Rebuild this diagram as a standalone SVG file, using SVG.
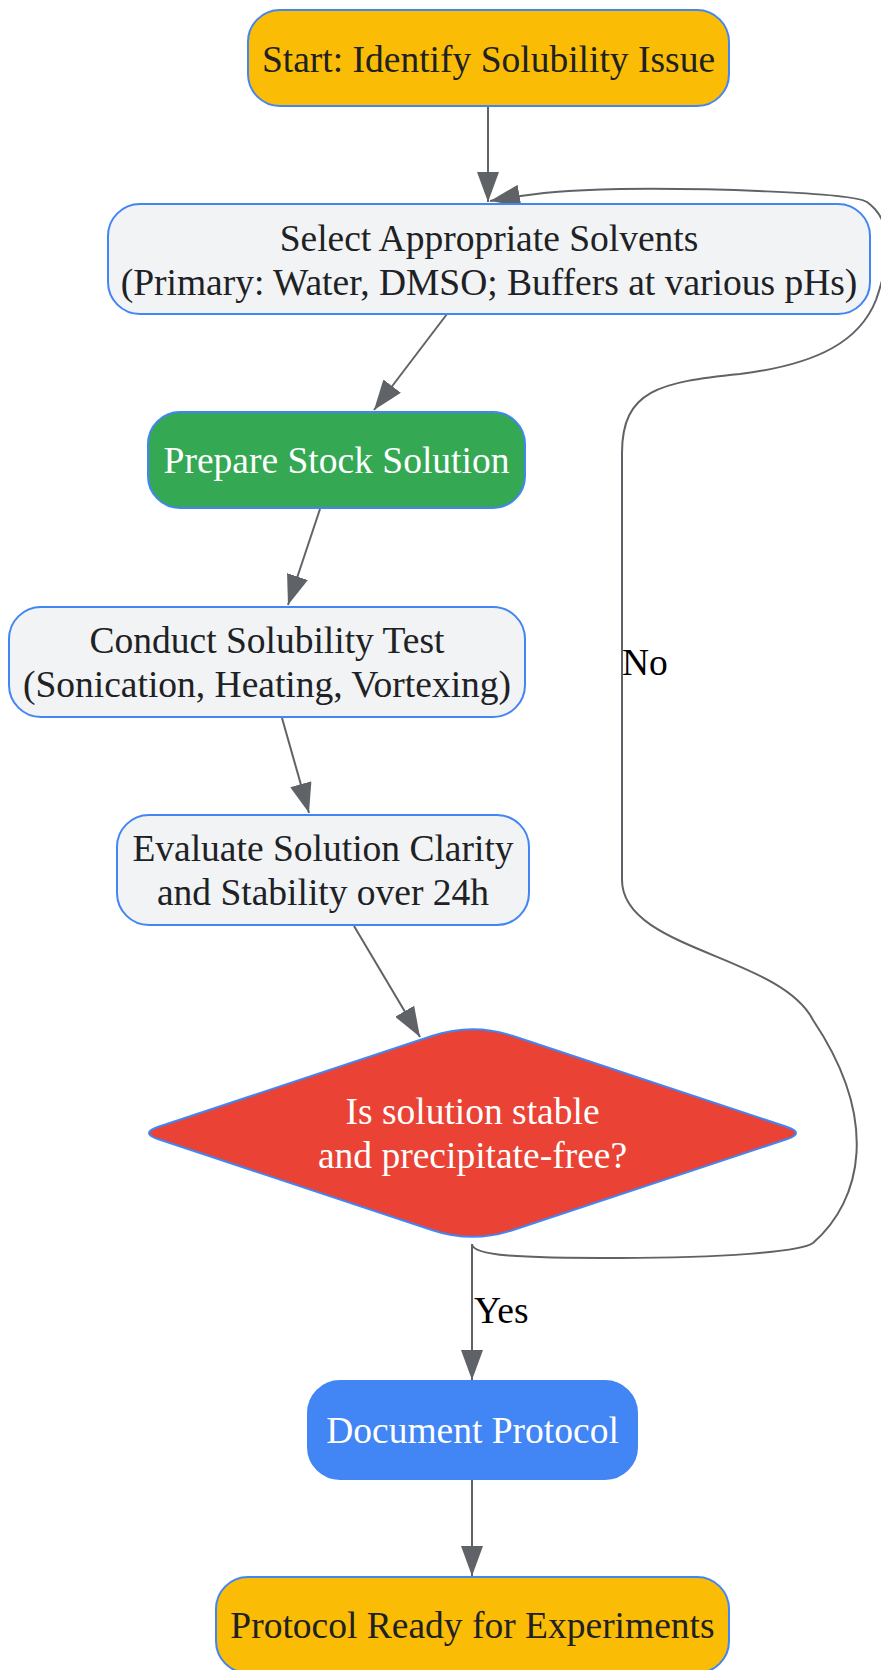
<svg xmlns="http://www.w3.org/2000/svg" width="881" height="1670" viewBox="0 0 881 1670">
<style>
  .node { stroke: #4285F4; stroke-width: 2; }
  .yellow { fill: #FBBC05; }
  .light { fill: #F1F3F4; }
  .green { fill: #34A853; }
  .red { fill: #EA4335; }
  .blue { fill: #4285F4; }
  text { font-family: "Liberation Serif", "Times New Roman", serif; font-size: 37.5px; }
  .dark { fill: #202124; text-anchor: middle; }
  .white { fill: #FFFFFF; text-anchor: middle; }
  .label { fill: #000000; text-anchor: start; }
  .edge { fill: none; stroke: #5F6368; stroke-width: 2; }
</style>
<defs>
  <marker id="arrow" markerUnits="userSpaceOnUse" viewBox="0 0 30 22" refX="30" refY="11" markerWidth="30" markerHeight="22" orient="auto">
    <path d="M0,0 L30,11 L0,22 z" fill="#5F6368"/>
  </marker>
</defs>
<rect width="881" height="1670" fill="#FFFFFF"/>
<g id="connectors">
  <path class="edge" d="M488,106 L488,202" marker-end="url(#arrow)"/>
  <path class="edge" d="M447,314 L374,410" marker-end="url(#arrow)"/>
  <path class="edge" d="M320,509 L288,605" marker-end="url(#arrow)"/>
  <path class="edge" d="M282,718 L309,813" marker-end="url(#arrow)"/>
  <path class="edge" d="M354,926 L420,1037" marker-end="url(#arrow)"/>
  <path class="edge" d="M472,1244 L472,1380" marker-end="url(#arrow)"/>
  <path class="edge" d="M472,1479 L472,1576" marker-end="url(#arrow)"/>
  <path class="edge" d="M472,1244 C472,1256 520,1258 620,1258 C720,1258 800,1252 813,1243 C862,1200 880,1120 813,1020 C780,955 622,950 622,880 L622,453 C622,390 660,382 740,374 C820,364 860,340 876,300 C890,260 895,222 867,202 C850,192 700,188 620,189 C570,190 540,192 490,201" marker-end="url(#arrow)"/>
  <text class="label" x="622" y="675">No</text>
  <text class="label" x="474" y="1323">Yes</text>
</g>
<g id="start">
  <rect class="node yellow" x="248" y="10" width="481" height="96" rx="32" ry="32"/>
  <text class="dark" x="488.5" y="72">Start: Identify Solubility Issue</text>
</g>
<g id="select">
  <rect class="node light" x="108" y="204" width="762" height="110" rx="32" ry="32"/>
  <text class="dark" x="489" y="251">Select Appropriate Solvents</text>
  <text class="dark" x="489" y="295">(Primary: Water, DMSO; Buffers at various pHs)</text>
</g>
<g id="prepare">
  <rect class="node green" x="148" y="412" width="377" height="96" rx="32" ry="32"/>
  <text class="white" x="336.5" y="473">Prepare Stock Solution</text>
</g>
<g id="conduct">
  <rect class="node light" x="9" y="607" width="516" height="110" rx="32" ry="32"/>
  <text class="dark" x="267" y="653">Conduct Solubility Test</text>
  <text class="dark" x="267" y="697">(Sonication, Heating, Vortexing)</text>
</g>
<g id="evaluate">
  <rect class="node light" x="117" y="815" width="412" height="110" rx="32" ry="32"/>
  <text class="dark" x="323" y="861">Evaluate Solution Clarity</text>
  <text class="dark" x="323" y="905">and Stability over 24h</text>
</g>
<g id="decision">
  <path class="node red" d="M512.4,1035.8 L786.5,1126.7 Q805.5,1133 786.5,1139.3 L512.4,1230.2 Q472.5,1243.4 432.6,1230.2 L158.5,1139.3 Q139.5,1133 158.5,1126.7 L432.6,1035.8 Q472.5,1022.6 512.4,1035.8 Z"/>
  <text class="white" x="472.5" y="1124">Is solution stable</text>
  <text class="white" x="472.5" y="1168">and precipitate-free?</text>
</g>
<g id="document">
  <rect class="node blue" x="308" y="1381" width="329" height="98" rx="32" ry="32"/>
  <text class="white" x="472.5" y="1443">Document Protocol</text>
</g>
<g id="ready">
  <rect class="node yellow" x="216" y="1577" width="513" height="96" rx="32" ry="32"/>
  <text class="dark" x="472.5" y="1638">Protocol Ready for Experiments</text>
</g>
</svg>
